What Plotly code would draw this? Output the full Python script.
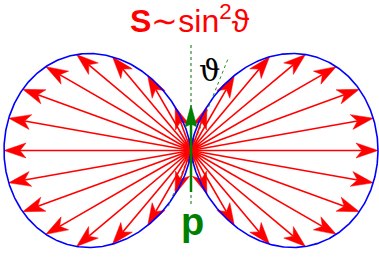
import numpy as np
import plotly.graph_objects as go

# ---- data -------------------------------------------------------------
# radiation pattern S ~ sin^2(theta), theta measured from the dipole axis
curve_theta_deg = np.linspace(0, 360, 1441)
# directions of the red Poynting arrows (theta from dipole axis, degrees)
arrow_theta_deg = [13.4, 26.1, 37.9, 48.5, 58.1, 66.8, 74.9, 82.5, 90.0,
                   97.5, 105.1, 113.2, 121.9, 131.5, 142.1, 153.9, 166.6]
title_text = "<b>S</b>∼sin<sup>2</sup>ϑ"
theta_label = "ϑ"
p_label = "<b>p</b>"
slant_deg = 22  # angle of dotted theta-line from axis

# ---- geometry helpers (pixel <-> data) --------------------------------
W, H = 379, 258
CX, CY = 191.0, 150.5          # centre in pixels
SX, SY = 187.0, 252.0          # px per data unit


def px2d(xp, yp):
    return (xp - CX) / SX, (CY - yp) / SY


def pattern(th_deg, side):
    t = np.radians(th_deg)
    r = np.sin(t) ** 2
    return side * r * np.sin(t), r * np.cos(t)


def head(tip_x, tip_y, L, Wd, notch):
    ux, uy = tip_x * SX, tip_y * SY
    n = np.hypot(ux, uy)
    ux, uy = ux / n, uy / n
    nx, ny = -uy, ux
    pts = [(0, 0), (-L * ux + Wd / 2 * nx, -L * uy + Wd / 2 * ny),
           (-(L - notch) * ux, -(L - notch) * uy),
           (-L * ux - Wd / 2 * nx, -L * uy - Wd / 2 * ny), (0, 0)]
    xs = [tip_x + a / SX for a, b in pts]
    ys = [tip_y + b / SY for a, b in pts]
    base = (tip_x - (L - notch) * ux / SX, tip_y - (L - notch) * uy / SY)
    return xs, ys, base


fig = go.Figure()

# dotted axis line and dotted theta line
y_top, y_bot = px2d(0, 45)[1], px2d(0, 207)[1]
fig.add_trace(go.Scatter(x=[0, 0], y=[y_top, y_bot], mode="lines",
                         line=dict(color="#2e8b2e", width=1.2, dash="dot"),
                         hoverinfo="skip", showlegend=False))
s = np.radians(slant_deg)
up_len, dn_len = 98, 60
fig.add_trace(go.Scatter(x=[up_len * np.sin(s) / SX, -dn_len * np.sin(s) / SX],
                         y=[up_len * np.cos(s) / SY, -dn_len * np.cos(s) / SY],
                         mode="lines",
                         line=dict(color="#2e8b2e", width=1.0, dash="dot"),
                         hoverinfo="skip", showlegend=False))

# red arrows
sx, sy, hx, hy = [], [], [], []
for side in (1, -1):
    for th in arrow_theta_deg:
        tx, ty = pattern(th, side)
        xs, ys, base = head(float(tx), float(ty), 22, 15, 6)
        sx += [0, base[0], None]
        sy += [0, base[1], None]
        hx += xs + [None]
        hy += ys + [None]
fig.add_trace(go.Scatter(x=sx, y=sy, mode="lines",
                         line=dict(color="#ff0000", width=1.6),
                         hoverinfo="skip", showlegend=False))
fig.add_trace(go.Scatter(x=hx, y=hy, mode="lines", fill="toself",
                         fillcolor="#ff0000", line=dict(color="#ff0000", width=0.5),
                         hoverinfo="skip", showlegend=False))

# blue pattern
cx, cy = pattern(curve_theta_deg, 1)
fig.add_trace(go.Scatter(x=cx, y=cy, mode="lines",
                         line=dict(color="#0000ff", width=1.6),
                         hoverinfo="skip", showlegend=False))

# green dipole arrow
g_top = px2d(0, 105)[1]
g_bot = px2d(0, 192)[1]
gxs, gys, gbase = head(0.0, g_top, 22, 12, 3)
fig.add_trace(go.Scatter(x=[0, 0], y=[g_bot, gbase[1]], mode="lines",
                         line=dict(color="#008000", width=2.5),
                         hoverinfo="skip", showlegend=False))
fig.add_trace(go.Scatter(x=gxs, y=gys, mode="lines", fill="toself",
                         fillcolor="#008000", line=dict(color="#008000", width=0.5),
                         hoverinfo="skip", showlegend=False))

ann = []
tx_, ty_ = px2d(190, 19)
ann.append(dict(x=tx_, y=ty_, text=title_text, showarrow=False,
                font=dict(family="Liberation Sans, Arial", size=32, color="#ff0000")))
lx, ly = px2d(209, 70)
ann.append(dict(x=lx, y=ly, text=theta_label, showarrow=False,
                font=dict(family="DejaVu Serif", size=30, color="#000000")))
px_, py_ = px2d(192, 222)
ann.append(dict(x=px_, y=py_, text=p_label, showarrow=False,
                font=dict(family="Liberation Sans, Arial", size=38, color="#008000")))

fig.update_layout(
    width=W, height=H, margin=dict(l=0, r=0, t=0, b=0),
    paper_bgcolor="white", plot_bgcolor="white",
    xaxis=dict(range=[-CX / SX, (W - CX) / SX], visible=False, fixedrange=True),
    yaxis=dict(range=[-(H - CY) / SY, CY / SY], visible=False, fixedrange=True),
    annotations=ann, showlegend=False,
)
fig.write_html("out.html", config={"displayModeBar": False},
               post_script="document.body.style.margin='0';document.body.style.overflow='hidden';")
